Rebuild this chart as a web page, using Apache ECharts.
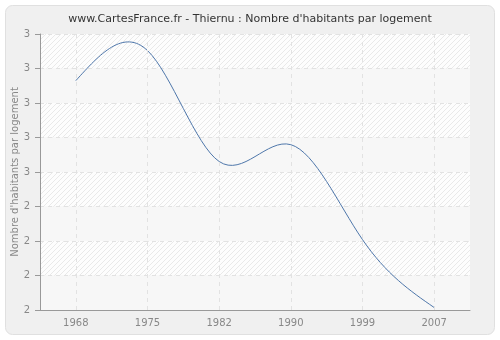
<!DOCTYPE html>
<html><head><meta charset="utf-8">
<script src="https://cdn.jsdelivr.net/npm/echarts@6/dist/echarts.min.js"></script>
<style>html,body{margin:0;padding:0;background:#fff}#c{width:500px;height:340px}</style>
</head><body><div id="c"></div>
<script>
var years = ['1968','1975','1982','1990','1999','2007'];
var values = [2.831, 2.94, 2.538, 2.599, 2.255, 2.009];
var yMin = 2, yMax = 3, yStep = 0.125;
var title = "www.CartesFrance.fr - Thiernu : Nombre d'habitants par logement";
var yName = "Nombre d'habitants par logement";

// natural cubic spline second derivatives (unit spacing in category index)
function splineM(y) {
  var n = y.length, M = new Array(n).fill(0);
  if (n < 3) return M;
  var c = [], d = [];
  for (var i = 1; i < n - 1; i++) {
    var rhs = 6 * (y[i + 1] - 2 * y[i] + y[i - 1]);
    if (i === 1) { c[i] = 1 / 4; d[i] = rhs / 4; }
    else { var den = 4 - c[i - 1]; c[i] = 1 / den; d[i] = (rhs - d[i - 1]) / den; }
  }
  M[n - 2] = d[n - 2];
  for (var j = n - 3; j >= 1; j--) M[j] = d[j] - c[j] * M[j + 1];
  return M;
}
var M = splineM(values);

var pc = document.createElement('canvas');
pc.width = 5; pc.height = 5;
var g = pc.getContext('2d');
g.fillStyle = '#fdfdfd'; g.fillRect(0,0,5,5);
g.strokeStyle = '#e9e9e9'; g.lineWidth = 1;
g.beginPath(); g.moveTo(-1,6); g.lineTo(6,-1); g.moveTo(-3,3); g.lineTo(3,-3); g.moveTo(2,8); g.lineTo(8,2); g.stroke();

var chart = echarts.init(document.getElementById('c'), null, {renderer:'canvas'});
chart.setOption({
  backgroundColor: '#ffffff',
  animation: false,
  graphic: [{type:'rect', shape:{x:5.5,y:5.5,width:489,height:329,r:7}, style:{fill:'#f0f0f0', stroke:'#e0e0e0', lineWidth:1}, z:-10}],
  title: {text: title, left: 'center', top: 9, textStyle:{fontFamily:'DejaVu Sans', fontSize:11, fontWeight:'normal', color:'#333'}},
  grid: {left:40, right:30, top:34, bottom:30, containLabel:false, outerBoundsMode:'none'},
  xAxis: {type:'category', data: years, boundaryGap:true,
    axisLine:{lineStyle:{color:'#999'}},
    axisTick:{alignWithLabel:true, length:5, lineStyle:{color:'#999'}},
    axisLabel:{color:'#888', fontFamily:'DejaVu Sans', fontSize:10, margin:8},
    splitLine:{show:false}},
  yAxis: {type:'value', min:yMin, max:yMax, interval:yStep,
    name: yName, nameLocation:'middle', nameGap:20, nameMoveOverlap:false,
    nameTextStyle:{color:'#888', fontFamily:'DejaVu Sans', fontSize:10},
    axisLine:{show:true, lineStyle:{color:'#999'}},
    axisTick:{show:true, length:5, lineStyle:{color:'#999'}},
    axisLabel:{color:'#888', fontFamily:'DejaVu Sans', fontSize:10, margin:10, formatter:function(v){return Math.round(v).toString();}},
    splitLine:{show:true, lineStyle:{color:'#e2e2e2', type:[4,4]}},
    splitArea:{show:true, areaStyle:{color:['#f7f7f7', {image:pc, repeat:'repeat'}]}}},
  series: [
    {type:'line', data: values, symbol:'none', lineStyle:{opacity:0}, silent:true,
     markLine:{silent:true, symbol:'none', label:{show:false},
       lineStyle:{color:'#e2e2e2', type:[4,4], width:1},
       data: years.map(function(y){return {xAxis:y};})}},
    {type:'custom', data: values.map(function(v,i){return [i,v];}),
     encode:{x:0, y:1},
     renderItem: function(params, api) {
       var i = params.dataIndex;
       if (i >= values.length - 1) return null;
       var y0 = values[i], y1 = values[i+1], m0 = M[i], m1 = M[i+1];
       var b = (y1 - y0) - (2*m0 + m1)/6;
       var dEnd = b + m0 + (m1 - m0)/2;
       var p0 = api.coord([i, y0]), p3 = api.coord([i+1, y1]);
       var c1v = y0 + b/3, c2v = y1 - dEnd/3;
       var c1 = [p0[0] + (p3[0]-p0[0])/3, api.coord([i, c1v])[1]];
       var c2 = [p0[0] + 2*(p3[0]-p0[0])/3, api.coord([i, c2v])[1]];
       return {type:'bezierCurve', shape:{x1:p0[0], y1:p0[1], x2:p3[0], y2:p3[1], cpx1:c1[0], cpy1:c1[1], cpx2:c2[0], cpy2:c2[1]},
         style:{stroke:'#4f77ab', lineWidth:1, fill:null}};
     }}
  ]
});
</script></body></html>
